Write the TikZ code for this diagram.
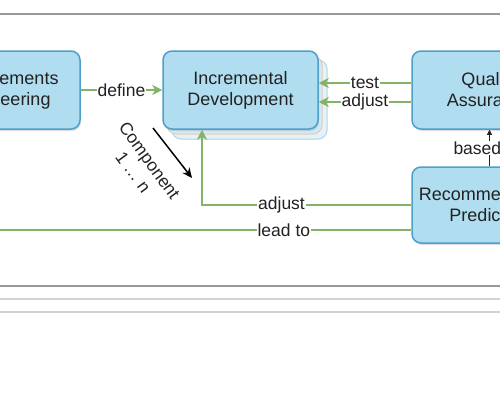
\documentclass[tikz,border=0pt]{standalone}
\usepackage{fontspec}
\setmainfont{Liberation Sans}
\usetikzlibrary{arrows.meta,shadows}
\definecolor{boxfill}{HTML}{B1DDF0}
\definecolor{boxline}{HTML}{4F9FCB}
\definecolor{edgegreen}{HTML}{82B366}
\definecolor{txt}{HTML}{222222}
\tikzset{
  box/.style={draw=boxline, fill=boxfill, line width=1.5pt, rounded corners=9pt,
    minimum width=155pt, minimum height=78pt, align=center, inner sep=0pt,
    font=\fontsize{18}{21}\selectfont, text=txt,
    drop shadow={shadow xshift=1pt, shadow yshift=-2pt, opacity=0.25}},
  stackcopy/.style={line width=1pt, rounded corners=9pt},
  flow/.style={draw=edgegreen, line width=1.8pt, -{Stealth[length=10pt,width=10pt,inset=3pt]}},
  plainflow/.style={draw=edgegreen, line width=1.8pt},
  basedarrow/.style={draw=txt, line width=0.8pt, -{Triangle[length=5pt,width=5pt]}},
  comparrow/.style={draw=black, line width=1.5pt, -{Stealth[length=10pt,width=9pt]}},
  lbl/.style={fill=white, font=\fontsize{17.5}{20}\selectfont, text=txt, inner sep=1pt},
  heavyrule/.style={draw=gray!80, line width=2pt},
  lightrule/.style={draw=gray!35, line width=1.5pt}
}
\begin{document}
\begin{tikzpicture}[x=1pt,y=-1pt]
\useasboundingbox (0,0) rectangle (500,400);
\clip (0,0) rectangle (500,400);
% page rules
\draw[heavyrule] (0,14) -- (500,14);
\draw[heavyrule] (0,286) -- (500,286);
\draw[lightrule] (0,299) -- (500,299);
\draw[lightrule] (0,312) -- (500,312);
% stacked copies behind Incremental Development
\draw[stackcopy, draw=boxline!45, fill=boxfill!35] (172,60) rectangle (327,139);
\draw[stackcopy, draw=brown!40, fill=boxfill!60] (167,56) rectangle (322,134);
% boxes
\node[box] (req) at (2.5,90) {Requirements\\Engineering};
\node[box] (inc) at (240.5,90) {Incremental\\Development};
\node[box] (qa) at (489.5,90) {Quality\\Assurance};
\node[box, minimum height=76pt] (rec) at (489.5,205) {Recommendation\\Prediction};
% helper coordinates
\coordinate (ty) at (0,83);
\coordinate (ay) at (0,102);
\coordinate (bend) at (202,205);
\coordinate (ly) at (0,230);
\coordinate (leadend) at (-5,230);
\coordinate (ca) at (153,128);
\coordinate (cb) at (192,178);
% connectors
\draw[flow] (req.east) -- node[lbl]{define} (inc.west);
\draw[flow] (qa.west |- ty) -- node[lbl]{test} (inc.east |- ty);
\draw[flow] (qa.west |- ay) -- node[lbl]{adjust} (inc.east |- ay);
\draw[basedarrow] (rec.north) -- node[lbl]{based on} (qa.south);
\draw[flow] (rec.west) -- node[lbl, pos=0.62]{adjust} (bend) -- (bend |- inc.south);
\draw[plainflow] (rec.west |- ly) -- node[lbl, pos=0.306]{lead to} (leadend);
\draw[comparrow] (ca) -- (cb);
\node[rotate=-54, align=center, font=\fontsize{17.5}{20}\selectfont, text=txt] (comptext) at (141.5,166.5) {Component\\1 … n};
\end{tikzpicture}
\end{document}
